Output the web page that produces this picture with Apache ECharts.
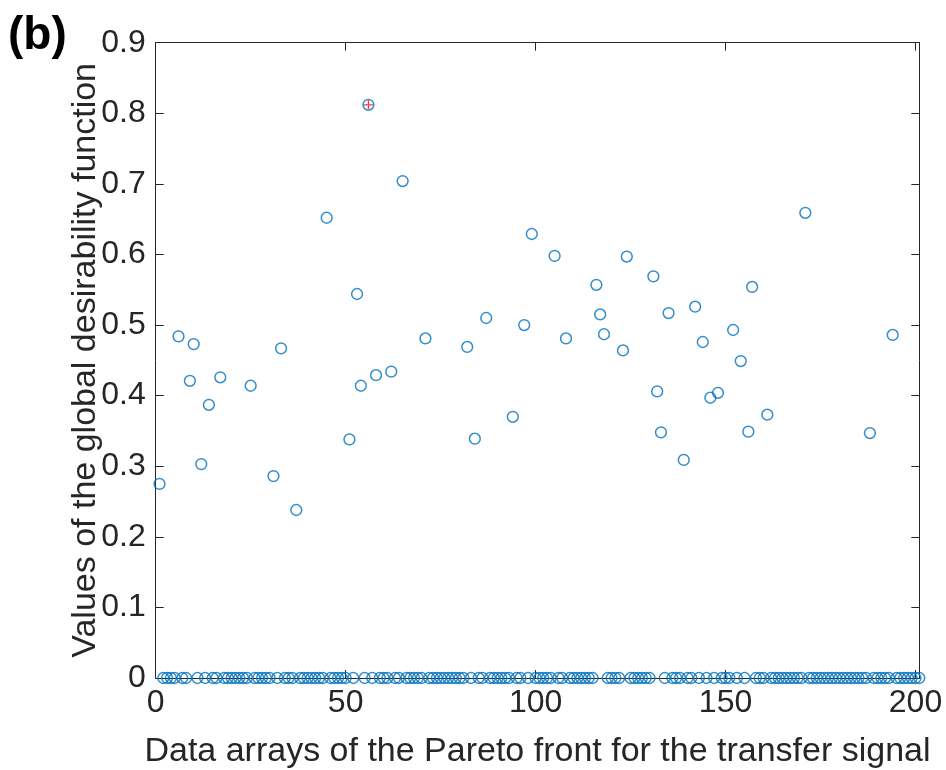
<!DOCTYPE html>
<html>
<head>
<meta charset="utf-8">
<script src="https://cdn.jsdelivr.net/npm/echarts@6/dist/echarts.min.js"></script>
<style>
  html, body { margin: 0; padding: 0; background: #ffffff; }
  #chart { width: 946px; height: 770px; }
</style>
</head>
<body>
<div id="chart"></div>
<script>
// Global desirability value for each data array of the Pareto front (arrays 1..201)
const desirability = [
  0.275, 0, 0, 0, 0, 0.484, 0, 0, 0.421, 0.473,
  0, 0.303, 0, 0.387, 0, 0, 0.426, 0, 0, 0,
  0, 0, 0, 0, 0.414, 0, 0, 0, 0, 0,
  0.286, 0, 0.467, 0, 0, 0, 0.238, 0, 0, 0,
  0, 0, 0, 0, 0.652, 0, 0, 0, 0, 0,
  0.338, 0, 0.544, 0.414, 0, 0.812, 0, 0.429, 0, 0,
  0, 0.434, 0, 0, 0.704, 0, 0, 0, 0, 0,
  0.481, 0, 0, 0, 0, 0, 0, 0, 0, 0,
  0, 0.469, 0, 0.339, 0, 0, 0.510, 0, 0, 0,
  0, 0, 0, 0.370, 0, 0, 0.500, 0, 0.629, 0,
  0, 0, 0, 0, 0.598, 0, 0, 0.481, 0, 0,
  0, 0, 0, 0, 0, 0.557, 0.515, 0.487, 0, 0,
  0, 0, 0.464, 0.597, 0, 0, 0, 0, 0, 0,
  0.569, 0.406, 0.348, 0, 0.517, 0, 0, 0, 0.309, 0,
  0, 0.526, 0, 0.476, 0, 0.397, 0, 0.404, 0, 0,
  0, 0.493, 0, 0.449, 0, 0.349, 0.554, 0, 0, 0,
  0.373, 0, 0, 0, 0, 0, 0, 0, 0, 0,
  0.659, 0, 0, 0, 0, 0, 0, 0, 0, 0,
  0, 0, 0, 0, 0, 0, 0, 0.347, 0, 0,
  0, 0, 0, 0.486, 0, 0, 0, 0, 0, 0,
  0
];

// Best compromise solution (highlighted with a red cross)
const bestIndex = [56];
const bestValue = [0.812];

// Axis tick labels
const xTickLabels = [0, 50, 100, 150, 200];
const yTickLabels = [0, 0.1, 0.2, 0.3, 0.4, 0.5, 0.6, 0.7, 0.8, 0.9];

const FONT = "'Liberation Sans', Arial, Helvetica, sans-serif";
const INK = '#262626';

const chart = echarts.init(document.getElementById('chart'), null, { renderer: 'canvas' });

const frameAxis = {
  axisLine: { show: true, onZero: false, lineStyle: { color: INK, width: 1 } },
  axisTick: { show: true, inside: true, length: 8, lineStyle: { color: INK, width: 1 } },
  splitLine: { show: false }
};

chart.setOption({
  animation: false,
  backgroundColor: '#ffffff',
  grid: {
    left: 155.7, top: 42.7, right: 26.7, bottom: 92,
    containLabel: false, outerBoundsMode: 'none'
  },
  graphic: [{
    type: 'text',
    left: 8, top: 13,
    style: { text: '(b)', font: 'bold 46px ' + FONT, fill: '#000000' }
  }],
  xAxis: [
    Object.assign({}, frameAxis, {
      type: 'value', position: 'bottom', min: 0, max: 201, interval: 50,
      name: 'Data arrays of the Pareto front for the transfer signal',
      nameLocation: 'middle', nameGap: 57, nameMoveOverlap: false,
      nameTextStyle: { fontFamily: FONT, fontSize: 34, color: INK },
      axisLabel: {
        margin: 9, fontFamily: FONT, fontSize: 32, color: INK,
        showMaxLabel: true,
        formatter: v => (xTickLabels.indexOf(v) >= 0 ? String(v) : '')
      }
    }),
    Object.assign({}, frameAxis, {
      type: 'value', position: 'top', min: 0, max: 201, interval: 50,
      axisLabel: { show: false }
    })
  ],
  yAxis: [
    Object.assign({}, frameAxis, {
      type: 'value', position: 'left', min: 0, max: 0.9, interval: 0.1,
      name: 'Values of the global desirability function',
      nameLocation: 'middle', nameGap: 53, nameMoveOverlap: false,
      nameTextStyle: { fontFamily: FONT, fontSize: 34, color: INK },
      axisLabel: {
        margin: 10, fontFamily: FONT, fontSize: 32, color: INK,
        formatter: v => {
          const r = Math.round(v * 10) / 10;
          return yTickLabels.indexOf(r) >= 0 ? String(r) : '';
        }
      }
    }),
    Object.assign({}, frameAxis, {
      type: 'value', position: 'right', min: 0, max: 0.9, interval: 0.1,
      axisLabel: { show: false }
    })
  ],
  series: [
    {
      type: 'scatter',
      xAxisIndex: 0, yAxisIndex: 0,
      data: desirability.map((v, i) => [i + 1, v]),
      symbol: 'circle',
      symbolSize: 10.8,
      clip: false,
      silent: true,
      itemStyle: { color: 'rgba(0,0,0,0)', borderColor: '#0072BD', borderWidth: 1.5 },
      z: 2
    },
    {
      type: 'scatter',
      xAxisIndex: 0, yAxisIndex: 0,
      data: bestIndex.map((x, i) => [x, bestValue[i]]),
      symbol: 'path://M5,0L5,10M0,5L10,5',
      symbolSize: 9,
      clip: false,
      silent: true,
      itemStyle: { color: 'rgba(0,0,0,0)', borderColor: '#FF0000', borderWidth: 1.3 },
      z: 3
    }
  ]
});
</script>
</body>
</html>
